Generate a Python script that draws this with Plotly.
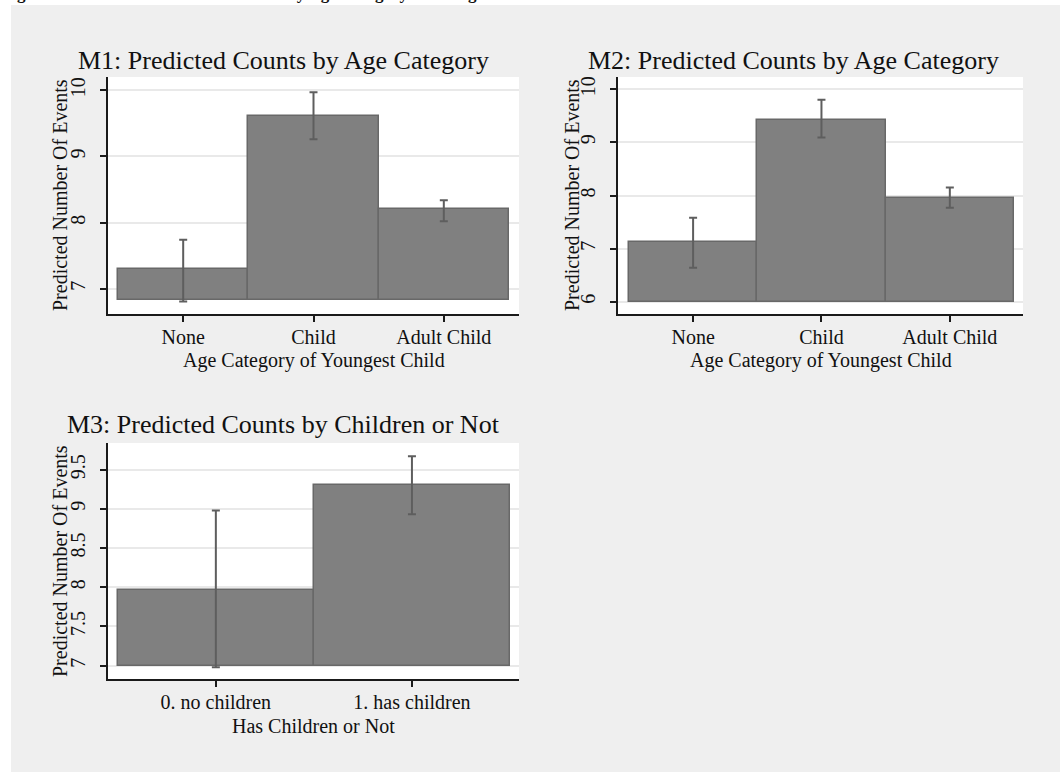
import plotly.graph_objects as go

# ---- data -------------------------------------------------------------
m1_cats = ["None", "Child", "Adult Child"]
m1_pred = [7.30, 9.61, 8.20]
m1_lo = [6.81, 9.26, 8.02]
m1_hi = [7.74, 9.97, 8.34]
m1_base = 6.83

m2_cats = ["None", "Child", "Adult Child"]
m2_pred = [7.13, 9.42, 7.96]
m2_lo = [6.64, 9.09, 7.77]
m2_hi = [7.58, 9.80, 8.15]
m2_base = 6.0

m3_cats = ["0. no children", "1. has children"]
m3_pred = [7.97, 9.30]
m3_lo = [6.98, 8.93]
m3_hi = [8.98, 9.67]
m3_base = 7.0

m1_yticks = [7, 8, 9, 10]
m2_yticks = [6, 7, 8, 9, 10]
m3_yticks = [7, 7.5, 8, 8.5, 9, 9.5]

W, H = 1060, 772
FONT = "Liberation Serif"
BAR_FILL = "#808080"
BAR_EDGE = "#686868"
ERR_COL = "#5e5e5e"
GRID = "#e9e9e9"


def px(x):
    return x / W


def py(y):
    return 1 - y / H


fig = go.Figure()


def add_panel(idx, cats, pred, lo, hi, base):
    xs = list(range(len(cats)))
    sfx = "" if idx == 1 else str(idx)
    fig.add_trace(go.Bar(
        x=xs, y=[p - base for p in pred], base=base, width=1,
        marker=dict(color=BAR_FILL, line=dict(color=BAR_EDGE, width=1.5)),
        xaxis="x" + sfx, yaxis="y" + sfx, showlegend=False, hoverinfo="skip",
    ))
    fig.add_trace(go.Scatter(
        x=xs, y=pred, mode="markers",
        marker=dict(size=1, opacity=0),
        error_y=dict(type="data", symmetric=False,
                     array=[h - p for h, p in zip(hi, pred)],
                     arrayminus=[p - l for p, l in zip(pred, lo)],
                     color=ERR_COL, thickness=2, width=4),
        xaxis="x" + sfx, yaxis="y" + sfx, showlegend=False, hoverinfo="skip",
    ))


add_panel(1, m1_cats, m1_pred, m1_lo, m1_hi, m1_base)
add_panel(2, m2_cats, m2_pred, m2_lo, m2_hi, m2_base)
add_panel(3, m3_cats, m3_pred, m3_lo, m3_hi, m3_base)

tickfont = dict(family=FONT, size=20, color="#111111")


def xaxis(domain, rng, cats, anchor):
    return dict(domain=domain, range=rng, anchor=anchor,
                tickmode="array", tickvals=list(range(len(cats))), ticktext=cats,
                showgrid=False, zeroline=False, showline=True,
                linecolor="#1a1a1a", linewidth=2,
                ticks="outside", ticklen=6, tickwidth=2, tickcolor="#1a1a1a",
                ticklabelstandoff=-2,
                tickfont=tickfont, fixedrange=True)


def yaxis(domain, rng, ticks, anchor):
    return dict(domain=domain, range=rng, anchor=anchor,
                tickmode="array", tickvals=ticks,
                ticktext=[("%g" % t) for t in ticks],
                tickangle=-90,
                showgrid=True, gridcolor=GRID, gridwidth=2,
                zeroline=False, showline=True,
                linecolor="#1a1a1a", linewidth=2,
                ticks="outside", ticklen=6, tickwidth=2, tickcolor="#1a1a1a",
                ticklabelstandoff=7,
                tickfont=tickfont, fixedrange=True)


top_dom = [py(314), py(77)]
bot_dom = [py(679), py(443)]

fig.update_layout(
    width=W, height=H,
    margin=dict(l=0, r=0, t=0, b=0),
    paper_bgcolor="#efefef",
    plot_bgcolor="white",
    bargap=0,
    xaxis=xaxis([px(108), px(519)], [-0.577, 2.577], m1_cats, "y"),
    yaxis=yaxis(top_dom, [6.62, 10.2], m1_yticks, "x"),
    xaxis2=xaxis([px(618), px(1023)], [-0.585, 2.57], m2_cats, "y2"),
    yaxis2=yaxis(top_dom, [5.77, 10.23], m2_yticks, "x2"),
    xaxis3=xaxis([px(108), px(519)], [-0.55, 1.546], m3_cats, "y3"),
    yaxis3=yaxis(bot_dom, [6.83, 9.84], m3_yticks, "x3"),
)

# white page strips around the grey graph region
fig.add_shape(type="rect", xref="paper", yref="paper",
              x0=0, x1=px(11), y0=0, y1=1, fillcolor="white",
              line_width=0, layer="below")
fig.add_shape(type="rect", xref="paper", yref="paper",
              x0=0, x1=1, y0=py(5), y1=1, fillcolor="white",
              line_width=0, layer="below")

ann = []


def text(x, y, s, size, angle=0, bold=False, xanchor="center", yanchor="middle"):
    ann.append(dict(
        x=px(x), y=py(y), xref="paper", yref="paper", showarrow=False,
        text=("<b>%s</b>" % s) if bold else s, textangle=angle,
        xanchor=xanchor, yanchor=yanchor,
        font=dict(family=FONT, size=size, color="#111111"),
    ))


# figure heading running off the top edge
text(0, 5, "Figure 3: Predicted Number Of Events by Age Category of Youngest Child",
     17, bold=True, xanchor="left", yanchor="bottom")

# panel titles
text(283, 60, "M1: Predicted Counts by Age Category", 26)
text(794, 60, "M2: Predicted Counts by Age Category", 26)
text(283, 425, "M3: Predicted Counts by Children or Not", 26)

# axis titles
text(313.5, 360, "Age Category of Youngest Child", 20)
text(820.5, 360, "Age Category of Youngest Child", 20)
text(313.5, 726, "Has Children or Not", 20)
text(60, 195, "Predicted Number Of Events", 20, angle=-90)
text(572, 195, "Predicted Number Of Events", 20, angle=-90)
text(60, 561, "Predicted Number Of Events", 20, angle=-90)

fig.update_layout(annotations=ann)

fig.write_html("out.html")
